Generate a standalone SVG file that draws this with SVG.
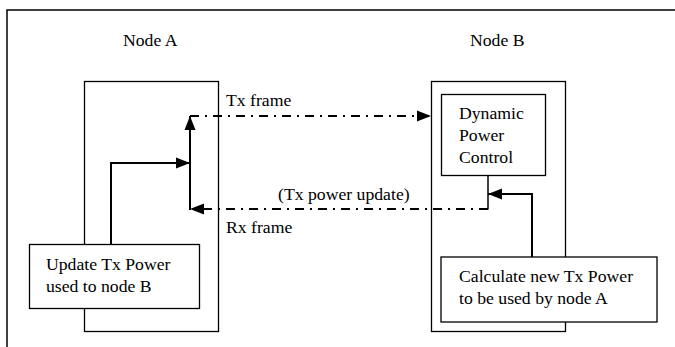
<svg xmlns="http://www.w3.org/2000/svg" width="675" height="347" viewBox="0 0 675 347" font-family="'Liberation Serif', 'Times New Roman', serif">
<style>
text{font-family:"Liberation Serif","Times New Roman",serif;font-size:17.7px;fill:#000}
.box{fill:#fff;stroke:#000;stroke-width:1.3}
.c{fill:none;stroke:#000;stroke-width:2}
.dd{fill:none;stroke:#000;stroke-width:2;stroke-dasharray:9,6,2,6}
</style>
<defs>
<marker id="ah" markerUnits="userSpaceOnUse" markerWidth="14" markerHeight="12" refX="14" refY="6" orient="auto">
<path d="M0,0.5 L14,6 L0,11.5 z" fill="#000"/>
</marker>
</defs>
<rect x="7" y="10" width="700" height="400" fill="none" stroke="#000" stroke-width="1.5"/>
<g id="nodeA">
<text x="123" y="46">Node A</text>
<rect class="box" x="84.5" y="81.5" width="134" height="250"/>
</g>
<g id="nodeB">
<text x="470" y="46">Node B</text>
<rect class="box" x="431.5" y="81.5" width="134" height="250"/>
</g>
<g id="update">
<rect class="box" x="29.5" y="244.5" width="170" height="64"/>
<text x="46" y="270">Update Tx Power</text>
<text x="46" y="292">used to node B</text>
</g>
<g id="dpc">
<rect class="box" x="441.5" y="94.5" width="104" height="81"/>
<text x="459" y="119">Dynamic</text>
<text x="459" y="141">Power</text>
<text x="459" y="163">Control</text>
</g>
<g id="calc">
<rect class="box" x="441" y="257" width="216" height="65"/>
<text x="459" y="282">Calculate new Tx Power</text>
<text x="459" y="304">to be used by node A</text>
</g>
<g id="connectors">
<path class="c" d="M111,244 V163 H190" marker-end="url(#ah)"/>
<path class="c" d="M190,210 V116" marker-end="url(#ah)"/>
<path class="dd" d="M190,116 H431" marker-end="url(#ah)"/>
<path d="M488,175 V209.5" fill="none" stroke="#000" stroke-width="1.5"/>
<path class="dd" d="M488,209 H190" marker-end="url(#ah)"/>
<path class="c" d="M532,257 V194 H488" marker-end="url(#ah)"/>
<text x="226" y="106">Tx frame</text>
<text x="278" y="200">(Tx power update)</text>
<text x="226" y="233">Rx frame</text>
</g>
</svg>
